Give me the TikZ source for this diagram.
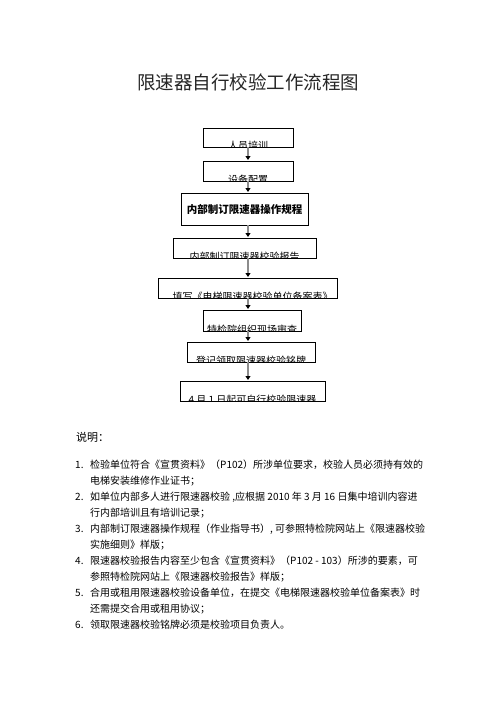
\documentclass[tikz,border=0pt]{standalone}
\usepackage{fontspec}
\setmainfont{Noto Sans CJK SC}
\usetikzlibrary{arrows.meta}
\tikzset{
  box/.style={draw=black, line width=0.8pt, inner sep=0pt, fill=white},
  cliptext/.style={font=\fontsize{10}{10}\selectfont, inner sep=0pt},
  arr/.style={draw=black!45, line width=1.5pt, shorten >=0.6pt, -{Triangle[length=4pt,width=5pt,color=black]}},
  note/.style={anchor=west, inner sep=0pt, font=\fontsize{10}{10}\selectfont},
}
\newcommand{\clipbox}[6]{% name, x, y, w, h, text
  \node[box, minimum width=#4pt, minimum height=#5pt,
    path picture={\node[cliptext] at ([yshift=1.2pt]path picture bounding box.south) {#6};}]
    (#1) at (#2,#3) {};
}
\begin{document}
\begin{tikzpicture}[x=1pt,y=-1pt]
\useasboundingbox (0,0) rectangle (496,702);
\fill[white] (0,0) rectangle (496,702);
\coordinate (axis) at (248,0);
\node[inner sep=0pt, font=\fontsize{18.5}{18.5}\selectfont, text=black!85] (title) at (248,82) {限速器自行校验工作流程图};

\clipbox{b1}{248}{137.5}{90}{19}{人员培训}
\clipbox{b2}{248}{171}{90}{20}{设备配置}
\node[box, minimum width=127pt, minimum height=32pt, font=\fontsize{10.5}{10.5}\selectfont] (b3) at (244.5,209) {\textbf{内部制订限速器操作规程}};
\clipbox{b4}{244.5}{248}{143}{20}{内部制订限速器校验报告}
\clipbox{b5}{247.5}{288}{179}{20}{\hspace*{10pt}填写《电梯限速器校验单位备案表》}
\clipbox{b6}{252}{320.5}{98}{21}{特检院组织现场审查}
\clipbox{b7}{251}{352}{128}{20}{登记领取限速器校验铭牌}
\clipbox{b8}{252.5}{391}{145}{20}{4 月 1 日起可自行校验限速器}

\draw[arr] (b1.south -| axis) -- (b2.north -| axis);
\draw[arr] (b2.south -| axis) -- (b3.north -| axis);
\draw[arr] (b3.south -| axis) -- (b4.north -| axis);
\draw[arr] (b4.south -| axis) -- (b5.north -| axis);
\draw[arr] (b5.south -| axis) -- (b6.north -| axis);
\draw[arr] (b6.south -| axis) -- (b7.north -| axis);
\draw[arr] (b7.south -| axis) -- (b8.north -| axis);

\node[note, font=\fontsize{11}{11}\selectfont] (head) at (76,437) {说明：};
\node[note] (n1) at (75,465) {1.};
\node[note] (t1a) at (90,465) {检验单位符合《宣贯资料》（P102）所涉单位要求，校验人员必须持有效的};
\node[note] (t1b) at (90,481) {电梯安装维修作业证书；};
\node[note] (n2) at (75,497) {2.};
\node[note] (t2a) at (90,497) {如单位内部多人进行限速器校验 ,应根据 2010 年 3 月 16 日集中培训内容进};
\node[note] (t2b) at (90,513) {行内部培训且有培训记录；};
\node[note] (n3) at (75,529) {3.};
\node[note] (t3a) at (90,529) {内部制订限速器操作规程（作业指导书）, 可参照特检院网站上《限速器校验};
\node[note] (t3b) at (90,545) {实施细则》样版；};
\node[note] (n4) at (75,561) {4.};
\node[note] (t4a) at (90,561) {限速器校验报告内容至少包含《宣贯资料》（P102 - 103）所涉的要素，可};
\node[note] (t4b) at (90,577) {参照特检院网站上《限速器校验报告》样版；};
\node[note] (n5) at (75,593) {5.};
\node[note] (t5a) at (90,593) {合用或租用限速器校验设备单位，在提交《电梯限速器校验单位备案表》时};
\node[note] (t5b) at (90,609) {还需提交合用或租用协议；};
\node[note] (n6) at (75,625) {6.};
\node[note] (t6a) at (90,625) {领取限速器校验铭牌必须是校验项目负责人。};
\end{tikzpicture}
\end{document}
